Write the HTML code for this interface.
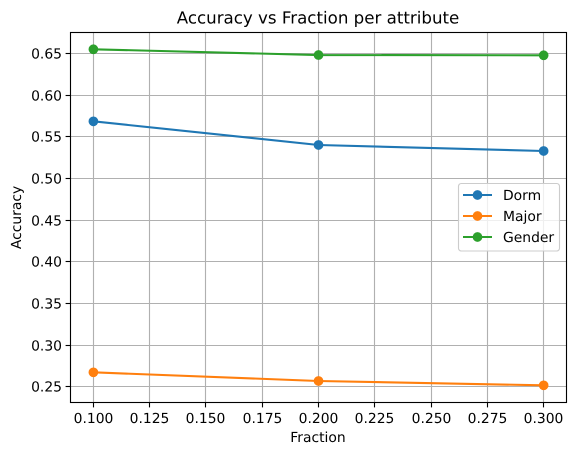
<!DOCTYPE html>
<html lang="en">
<head>
<meta charset="utf-8">
<title>Accuracy vs Fraction per attribute</title>
<style>
html,body{margin:0;padding:0;background:#fff;}
svg{display:block;}
text{font-family:"DejaVu Sans","Liberation Sans",sans-serif;fill:#000;text-rendering:geometricPrecision;}
</style>
</head>
<body>
<svg id="chart" xmlns="http://www.w3.org/2000/svg" width="576" height="455" viewBox="0 0 576 455"></svg>
<script>
const fractions = [0.1, 0.2, 0.3];
const dormValues = [0.5688, 0.5404, 0.5332];
const majorValues = [0.2675, 0.2571, 0.2519];
const genderValues = [0.6553, 0.6484, 0.6481];
const xTickLabels = ['0.100', '0.125', '0.150', '0.175', '0.200', '0.225', '0.250', '0.275', '0.300'];
const yTickLabels = ['0.25', '0.30', '0.35', '0.40', '0.45', '0.50', '0.55', '0.60', '0.65'];
const seriesNames = ['Dorm', 'Major', 'Gender'];

const svg = document.getElementById('chart');
const NS = 'http://www.w3.org/2000/svg';
const plot = {left: 70.5, right: 566.5, top: 32.5, bottom: 402.5};
const seriesColors = ['#1f77b4', '#ff7f0e', '#2ca02c'];
const seriesValues = [dormValues, majorValues, genderValues];

function xScale(v) { return 93.4 + (v - 0.1) * 2251.2; }
function yScale(v) { return 386.9 - (v - 0.25) * 833; }
function snap(p) { return Math.round(p - 0.5) + 0.5; }

function make(tag, attrs, text) {
  const el = document.createElementNS(NS, tag);
  for (const k in attrs) el.setAttribute(k, attrs[k]);
  if (text !== undefined) el.textContent = text;
  svg.appendChild(el);
  return el;
}

const bg = make('rect', {x: plot.left, y: plot.top, width: plot.right - plot.left, height: plot.bottom - plot.top, fill: '#fff'});



xTickLabels.forEach(function (label) {
  const v = parseFloat(label);
  const x = snap(xScale(v));
  const grid = make('line', {x1: x, x2: x, y1: plot.top, y2: plot.bottom, stroke: '#b0b0b0', 'stroke-width': 1.11});
  
  
  const tick = make('line', {x1: x, x2: x, y1: plot.bottom, y2: plot.bottom + 4.9, stroke: '#000', 'stroke-width': 1.11});
  
  
  const t = make('text', {x: x, y: 423, 'font-size': 13.89, 'text-anchor': 'middle'}, label);
  
  
});

yTickLabels.forEach(function (label) {
  const v = parseFloat(label);
  const y = snap(yScale(v));
  const grid = make('line', {x1: plot.left, x2: plot.right, y1: y, y2: y, stroke: '#b0b0b0', 'stroke-width': 1.11});
  
  
  const tick = make('line', {x1: plot.left - 4.9, x2: plot.left, y1: y, y2: y, stroke: '#000', 'stroke-width': 1.11});
  
  
  const t = make('text', {x: 62, y: y + 5, 'font-size': 13.89, 'text-anchor': 'end'}, label);
  
  
});

seriesValues.forEach(function (values, i) {
  const pts = values.map(function (v, j) { return xScale(fractions[j]) + ',' + yScale(v); }).join(' ');
  const line = make('polyline', {points: pts, fill: 'none', stroke: seriesColors[i], 'stroke-width': 2.08, 'stroke-linejoin': 'round'});
  
  
  values.forEach(function (v, j) {
    const c = make('circle', {cx: xScale(fractions[j]), cy: yScale(v), r: 4.86, fill: seriesColors[i]});
    
    
  });
});

const frame = make('rect', {x: plot.left, y: plot.top, width: plot.right - plot.left, height: plot.bottom - plot.top, fill: 'none', stroke: '#000', 'stroke-width': 1.11});



const legendBox = make('rect', {x: 458.5, y: 183.5, width: 101, height: 67.5, rx: 2.8, fill: '#fff', 'fill-opacity': 0.8, stroke: '#ccc', 'stroke-width': 1.11});



seriesNames.forEach(function (name, i) {
  const rowY = 195 + i * 21;
  const h = make('line', {x1: 463, x2: 492, y1: rowY, y2: rowY, stroke: seriesColors[i], 'stroke-width': 2.08});
  
  
  const m = make('circle', {cx: 477.5, cy: rowY, r: 4.86, fill: seriesColors[i]});
  
  
  const t = make('text', {x: 503, y: rowY + 5, 'font-size': 13.89}, name);
  
  
});

const title = make('text', {x: 318, y: 23.5, 'font-size': 16.67, 'text-anchor': 'middle'}, 'Accuracy vs Fraction per attribute');



const xTitle = make('text', {x: 318, y: 442, 'font-size': 13.89, 'text-anchor': 'middle'}, 'Fraction');



const yTitle = make('text', {x: 0, y: 0, 'font-size': 13.89, 'text-anchor': 'middle', transform: 'translate(21,217.5) rotate(-90)'}, 'Accuracy');


</script>
</body>
</html>
